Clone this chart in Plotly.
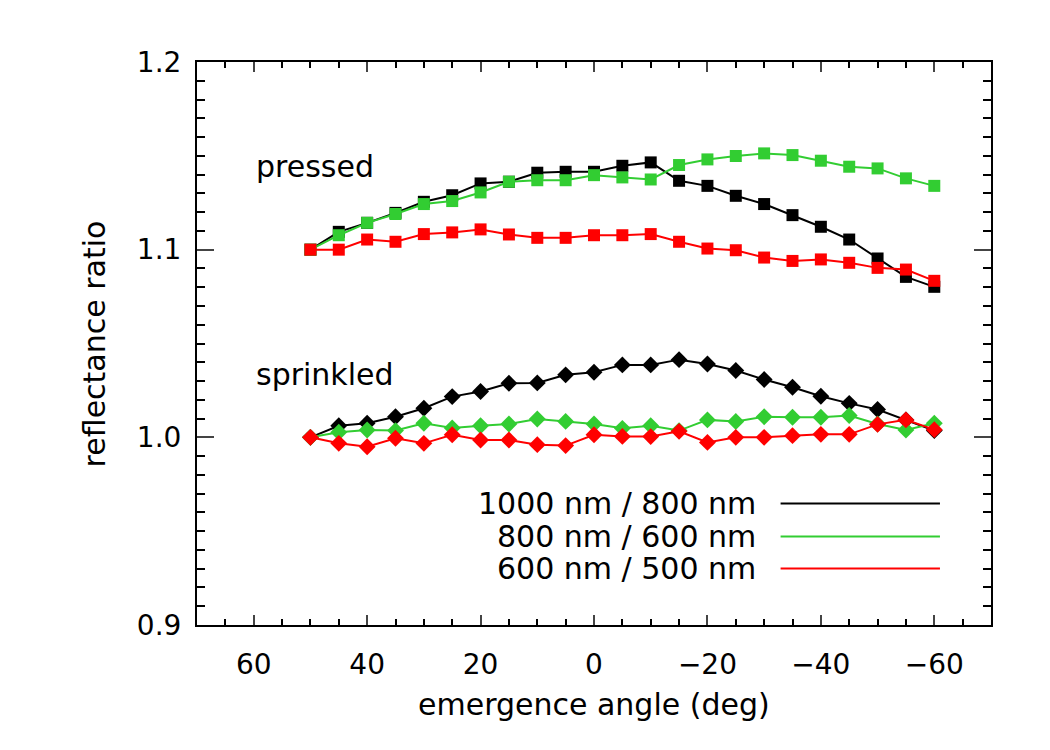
import plotly.graph_objects as go

angles = [50, 45, 40, 35, 30, 25, 20, 15, 10, 5, 0, -5, -10, -15, -20, -25, -30, -35, -40, -45, -50, -55, -60]

pressed_1000_800 = [1.100, 1.1095, 1.1143, 1.1196, 1.1255, 1.129, 1.1353, 1.1362, 1.141, 1.1415, 1.1415,
                    1.1447, 1.1465, 1.1367, 1.134, 1.1287, 1.1243, 1.1184, 1.1122, 1.1054, 1.0953, 1.0855, 1.0802]
pressed_800_600 = [1.100, 1.1077, 1.1143, 1.119, 1.1243, 1.1259, 1.1305, 1.1362, 1.137, 1.137, 1.1397,
                   1.1385, 1.1374, 1.1451, 1.1481, 1.1499, 1.1513, 1.1504, 1.1474, 1.1442, 1.1433, 1.138, 1.134]
pressed_600_500 = [1.100, 1.100, 1.1054, 1.1042, 1.1083, 1.1092, 1.1108, 1.1081, 1.1063, 1.1063, 1.1077,
                   1.1077, 1.1083, 1.1042, 1.1006, 1.0997, 1.0958, 1.094, 1.0948, 1.093, 1.0903, 1.0894, 1.0834]

sprinkled_1000_800 = [1.000, 1.0062, 1.0075, 1.011, 1.0155, 1.0217, 1.0244, 1.0288, 1.029, 1.0333, 1.0347,
                      1.0386, 1.0386, 1.0414, 1.0391, 1.0356, 1.0308, 1.0267, 1.0219, 1.0181, 1.0148, 1.0093, 1.0036]
sprinkled_800_600 = [1.000, 1.0027, 1.0039, 1.0036, 1.0075, 1.005, 1.0062, 1.0071, 1.0098, 1.0085, 1.0071,
                     1.0048, 1.0062, 1.0036, 1.0093, 1.0084, 1.011, 1.0107, 1.0107, 1.0116, 1.0071, 1.0039, 1.0075]
sprinkled_600_500 = [1.000, 0.9968, 0.995, 0.9995, 0.9968, 1.0014, 0.9986, 0.9986, 0.9961, 0.9956, 1.0014,
                     1.0005, 1.0004, 1.0032, 0.9973, 1.000, 1.000, 1.0009, 1.0016, 1.0016, 1.0069, 1.0093, 1.0041]

series_names = ["1000 nm / 800 nm", "800 nm / 600 nm", "600 nm / 500 nm"]
colors = ["#000000", "#32CD32", "#FF0000"]

FONT = "DejaVu Sans"

fig = go.Figure()

pressed = [pressed_1000_800, pressed_800_600, pressed_600_500]
sprinkled = [sprinkled_1000_800, sprinkled_800_600, sprinkled_600_500]

for vals, name, col in zip(pressed, series_names, colors):
    fig.add_trace(go.Scatter(x=angles, y=vals, mode="lines+markers", name=name,
                             line=dict(color=col, width=2),
                             marker=dict(symbol="square", size=12, color=col),
                             showlegend=False))
for vals, name, col in zip(sprinkled, series_names, colors):
    fig.add_trace(go.Scatter(x=angles, y=vals, mode="lines+markers", name=name,
                             line=dict(color=col, width=2),
                             marker=dict(symbol="diamond", size=13, color=col),
                             showlegend=False))

# legend drawn manually: text left, line right
legend_y = [0.9648, 0.9472, 0.9301]
for name, col, ly in zip(series_names, colors, legend_y):
    fig.add_annotation(x=-28.9, y=ly, xref="x", yref="y", text=name, showarrow=False,
                       xanchor="right", yanchor="middle",
                       font=dict(family=FONT, size=30, color="black"))
    fig.add_shape(type="line", x0=-32.9, x1=-61.0, y0=ly, y1=ly, xref="x", yref="y",
                  line=dict(color=col, width=2))

fig.add_annotation(x=60, y=1.1445, xref="x", yref="y", text="pressed", showarrow=False,
                   xanchor="left", yanchor="middle", font=dict(family=FONT, size=30, color="black"))
fig.add_annotation(x=60, y=1.0335, xref="x", yref="y", text="sprinkled", showarrow=False,
                   xanchor="left", yanchor="middle", font=dict(family=FONT, size=30, color="black"))

# axis titles
fig.add_annotation(x=0.5, y=-0.142, xref="paper", yref="paper", text="emergence angle (deg)",
                   showarrow=False, xanchor="center", yanchor="middle",
                   font=dict(family=FONT, size=30, color="black"))
fig.add_annotation(x=-0.1286, y=0.5, xref="paper", yref="paper", text="reflectance ratio",
                   showarrow=False, xanchor="center", yanchor="middle", textangle=-90,
                   font=dict(family=FONT, size=30, color="black"))

fig.update_layout(
    width=1050, height=750,
    margin=dict(l=197, r=59, t=62, b=125),
    paper_bgcolor="white", plot_bgcolor="white",
    font=dict(family=FONT, size=28, color="black"),
)
fig.update_xaxes(range=[70, -70], tick0=0, dtick=20, ticks="inside", ticklen=10, tickwidth=2,
                 showline=True, linewidth=2, linecolor="black", mirror="ticks",
                 showgrid=False, zeroline=False, ticklabelstandoff=13,
                 tickfont=dict(family=FONT, size=28, color="black"),
                 minor=dict(dtick=5, ticks="inside", ticklen=6, tickwidth=2, tickcolor="black", showgrid=False))
fig.update_yaxes(range=[0.9, 1.2], tick0=0.9, dtick=0.1, tickformat=".1f", ticks="inside", ticklen=17,
                 tickwidth=2, showline=True, linewidth=2, linecolor="black", mirror="ticks",
                 showgrid=False, zeroline=False, ticklabelstandoff=8,
                 tickfont=dict(family=FONT, size=28, color="black"),
                 minor=dict(dtick=0.01, ticks="inside", ticklen=8, tickwidth=2, tickcolor="black", showgrid=False))

fig.write_html("out.html")
